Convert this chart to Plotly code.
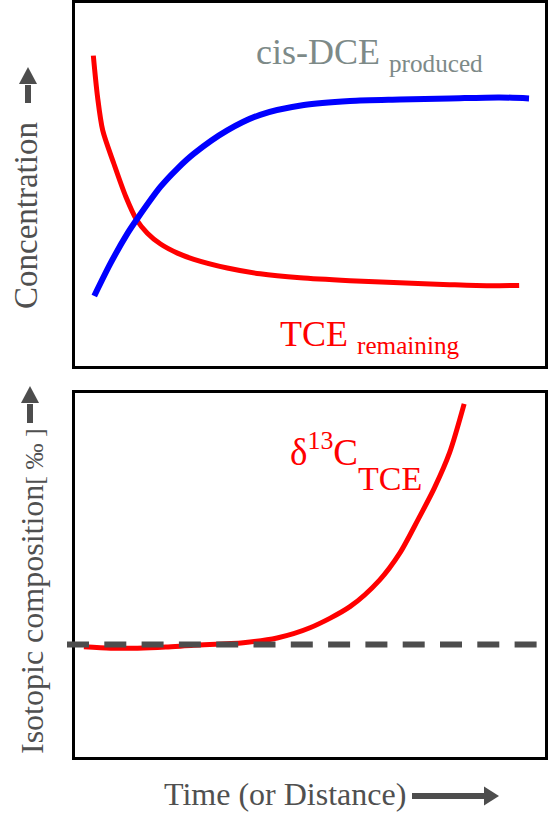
import plotly.graph_objects as go

# Concentration panel (arbitrary units, time 0-100)
tce_time = [3.9, 4.8, 5.9, 8.2, 10.8, 13.1, 15.4, 18.2, 21.8, 25.3, 32.4,
            39.4, 47.9, 58.5, 69.1, 79.7, 88.1, 94.5]
tce_conc = [85.5, 74.1, 64.9, 56.0, 46.7, 40.3, 36.6, 33.6, 31.1, 29.4, 27.0,
            25.4, 24.3, 23.5, 22.9, 22.4, 22.1, 22.2]

dce_time = [4.1, 7.6, 11.2, 13.1, 18.2, 21.8, 25.3, 32.4, 39.4, 48.7, 58.5, 69.1,
            79.7, 90.3, 96.6]
dce_conc = [19.3, 28.4, 36.6, 40.3, 49.4, 54.4, 58.5, 64.9, 69.2, 71.9, 73.0, 73.4,
            73.7, 74.0, 73.7]

# Isotope panel (arbitrary units)
iso_time = [1.9, 7.6, 13.3, 19.3, 25.2, 35.8, 43.0, 50.0, 58.5, 64.8, 69.1, 72.9,
            76.5, 79.7, 82.8]
iso_delta = [30.3, 29.9, 29.9, 30.2, 30.7, 31.4, 32.7, 35.5, 41.3, 48.6, 56.0, 65.0,
             74.0, 83.6, 97.0]
iso_initial = 30.9

W, H = 548, 814
SERIF = "Liberation Serif"
GREY = "#4d4d4d"


def px_x(x):
    return x / W


def px_y(y):
    return 1 - y / H


fig = go.Figure()

fig.add_trace(go.Scatter(x=tce_time, y=tce_conc, mode="lines",
                         line=dict(color="#ff0000", width=5, shape="spline", smoothing=0.8),
                         xaxis="x", yaxis="y", hoverinfo="skip"))
fig.add_trace(go.Scatter(x=dce_time, y=dce_conc, mode="lines",
                         line=dict(color="#0000ff", width=6, shape="spline", smoothing=0.8),
                         xaxis="x", yaxis="y", hoverinfo="skip"))
fig.add_trace(go.Scatter(x=iso_time, y=iso_delta, mode="lines",
                         line=dict(color="#ff0000", width=5, shape="spline", smoothing=0.8),
                         xaxis="x2", yaxis="y2", hoverinfo="skip"))

axis_common = dict(showgrid=False, zeroline=False, showticklabels=False, ticks="",
                   showline=True, mirror=True, linecolor="black", linewidth=2.5,
                   range=[0, 100], fixedrange=True)

xdom = [75 / W, 545 / W]
fig.update_layout(
    width=W, height=H,
    margin=dict(l=0, r=0, t=0, b=0),
    paper_bgcolor="white", plot_bgcolor="white",
    showlegend=False,
    font=dict(family=SERIF),
    xaxis=dict(domain=xdom, anchor="y", **axis_common),
    yaxis=dict(domain=[px_y(366), px_y(3)], anchor="x", **axis_common),
    xaxis2=dict(domain=xdom, anchor="y2", **axis_common),
    yaxis2=dict(domain=[px_y(757), px_y(393)], anchor="x2", **axis_common),
)

# initial isotope value (dashed reference line, reaching just past the left frame)
fig.add_shape(type="line", xref="paper", yref="y2",
              x0=px_x(67), x1=px_x(537), y0=iso_initial, y1=iso_initial,
              line=dict(color=GREY, width=6, dash="22px,15.3px"), layer="above")

# arrows next to the axis titles
def up_arrow(cx, tip, base, bottom):
    fig.add_shape(type="line", xref="paper", yref="paper",
                  x0=px_x(cx), x1=px_x(cx), y0=px_y(bottom), y1=px_y(base + 1),
                  line=dict(color=GREY, width=6))
    fig.add_shape(type="path", xref="paper", yref="paper",
                  path=f"M {px_x(cx - 9)},{px_y(base)} L {px_x(cx + 9)},{px_y(base)} "
                       f"L {px_x(cx)},{px_y(tip)} Z",
                  fillcolor=GREY, line=dict(width=0))


up_arrow(28, 67, 84, 103)
up_arrow(30, 386, 403, 423)

fig.add_shape(type="line", xref="paper", yref="paper",
              x0=px_x(412), x1=px_x(485), y0=px_y(796), y1=px_y(796),
              line=dict(color=GREY, width=6))
fig.add_shape(type="path", xref="paper", yref="paper",
              path=f"M {px_x(484)},{px_y(786.5)} L {px_x(484)},{px_y(805.5)} "
                   f"L {px_x(499)},{px_y(796)} Z",
              fillcolor=GREY, line=dict(width=0))

ann = []
ann.append(dict(text="cis-DCE <sub>produced</sub>", x=px_x(369), y=px_y(54),
                font=dict(family=SERIF, size=36, color="#7d8a88")))
ann.append(dict(text="TCE <sub>remaining</sub>", x=px_x(370), y=px_y(336),
                font=dict(family=SERIF, size=36, color="#ff0000")))
ann.append(dict(text="δ<sup>13</sup>C", x=px_x(324), y=px_y(449),
                font=dict(family=SERIF, size=37, color="#ff0000")))
ann.append(dict(text="TCE", x=px_x(390), y=px_y(479),
                font=dict(family=SERIF, size=34, color="#ff0000")))
ann.append(dict(text="Concentration", x=px_x(26), y=px_y(216), textangle=-90,
                font=dict(family=SERIF, size=33, color="#505050")))
ann.append(dict(text="Isotopic composition<span style='font-size:26px'>[ ‰ ]</span>",
                x=px_x(32), y=px_y(591), textangle=-90,
                font=dict(family=SERIF, size=32, color="#505050")))
ann.append(dict(text="Time (or Distance)", x=px_x(285), y=px_y(794),
                font=dict(family=SERIF, size=32, color="#505050")))

for a in ann:
    a.update(xref="paper", yref="paper", showarrow=False,
             xanchor="center", yanchor="middle")
fig.update_layout(annotations=ann)

fig.write_html("out.html", config={"displayModeBar": False})
